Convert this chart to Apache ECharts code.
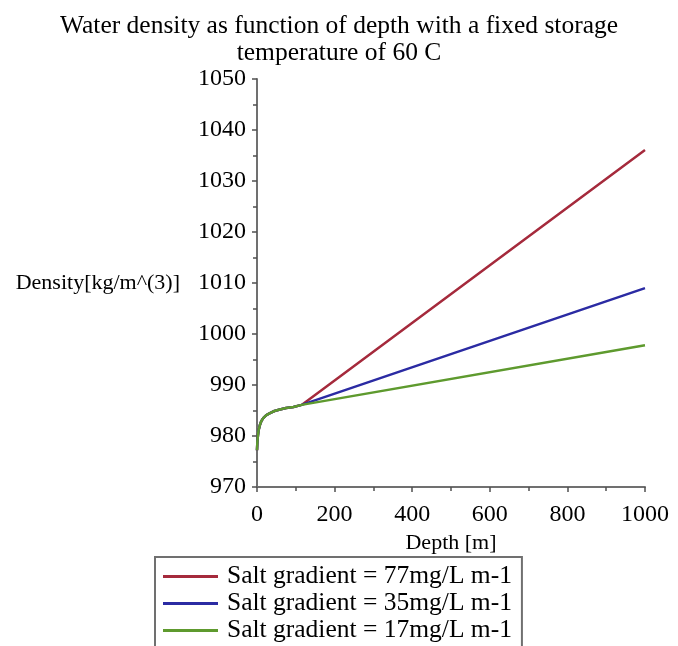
<!DOCTYPE html>
<html>
<head>
<meta charset="utf-8">
<script src="https://cdn.jsdelivr.net/npm/echarts@6/dist/echarts.min.js"></script>
<style>
  html, body { margin: 0; padding: 0; background: #fff; }
  #chart { width: 678px; height: 646px; }
</style>
</head>
<body>
<div id="chart"></div>
<script>
// Shared near-surface part of the density curve (depth [m], density [kg/m^3])
const baseDepth   = [0, 1, 2.6, 4, 7.7, 11, 16, 24, 33.5, 45, 59, 75, 94, 115];
const baseDensity = [977.2, 978.9, 980.2, 981.1, 982.2, 982.9, 983.5, 984.1, 984.5, 984.9, 985.2, 985.5, 985.7, 986.1];

// Deeper part for each salt gradient (straight segments)
const deepDepth = [115, 1000];
const density77 = [986.1, 1036.1];
const density35 = [986.1, 1009.0];
const density17 = [986.1, 997.8];

const seriesNames = [
  'Salt gradient = 77mg/L m-1',
  'Salt gradient = 35mg/L m-1',
  'Salt gradient = 17mg/L m-1'
];
const seriesColors = ['#A52A3C', '#2B2BA3', '#5E9A2E'];

const yTicks = { min: 970, max: 1050, step: 10 };
const xTicks = { min: 0, max: 1000, step: 200 };

function curve(deep) {
  const pts = baseDepth.map((d, i) => [d, baseDensity[i]]);
  for (let i = 1; i < deepDepth.length; i++) pts.push([deepDepth[i], deep[i]]);
  return pts;
}

const serif = 'Liberation Serif, Times New Roman, serif';
const axisLine = { lineStyle: { color: '#707070', width: 2 } };
const tickStyle = { color: '#505050', width: 1.5 };

const chart = echarts.init(document.getElementById('chart'));
chart.setOption({
  animation: false,
  backgroundColor: '#fff',
  title: {
    text: 'Water density as function of depth with a fixed storage\ntemperature of 60 C',
    left: 'center',
    top: 8,
    textStyle: { fontFamily: serif, fontWeight: 'normal', fontSize: 25.5, color: '#000', lineHeight: 27 }
  },
  grid: { left: 257, right: 33, top: 79, bottom: 159 },
  xAxis: {
    type: 'value',
    min: xTicks.min, max: xTicks.max, interval: xTicks.step,
    name: 'Depth [m]',
    nameLocation: 'middle',
    nameGap: 39,
    nameTextStyle: { fontFamily: serif, fontSize: 22, color: '#000' },
    axisLine: axisLine,
    axisTick: { show: true, inside: false, length: 5, lineStyle: tickStyle },
    minorTick: { show: true, splitNumber: 2, length: 4, lineStyle: tickStyle },
    axisLabel: { fontFamily: serif, fontSize: 24, color: '#000', margin: 16, formatter: v => String(v) },
    splitLine: { show: false }
  },
  yAxis: {
    type: 'value',
    min: yTicks.min, max: yTicks.max, interval: yTicks.step,
    name: 'Density[kg/m^(3)]',
    nameLocation: 'middle',
    nameRotate: 0,
    nameGap: 77,
    nameTextStyle: { fontFamily: serif, fontSize: 22, color: '#000', align: 'right', verticalAlign: 'middle' },
    axisLine: axisLine,
    axisTick: { show: true, inside: false, length: 5, lineStyle: tickStyle },
    minorTick: { show: true, splitNumber: 2, length: 4, lineStyle: tickStyle },
    axisLabel: { fontFamily: serif, fontSize: 24, color: '#000', margin: 11, formatter: v => String(v) },
    splitLine: { show: false }
  },
  legend: {
    orient: 'vertical',
    left: 155,
    top: 557,
    height: 95,
    padding: [6, 10, 10, 8],
    itemGap: 0,
    itemWidth: 55,
    itemHeight: 3,
    icon: 'rect',
    borderColor: '#707070',
    borderWidth: 2,
    textStyle: { fontFamily: serif, fontSize: 25.5, color: '#000', lineHeight: 27, padding: [0, 0, 0, 4] },
    data: seriesNames
  },
  series: [density77, density35, density17].map((vals, i) => ({
    name: seriesNames[i],
    type: 'line',
    data: curve(vals),
    showSymbol: false,
    lineStyle: { color: seriesColors[i], width: 2.5 },
    itemStyle: { color: seriesColors[i] },
    z: 2 + i
  }))
});
</script>
</body>
</html>
